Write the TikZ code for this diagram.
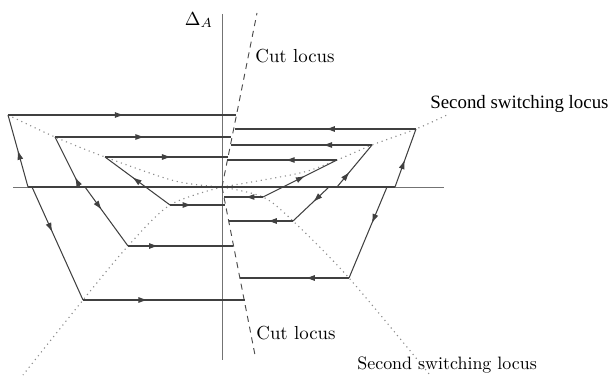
\documentclass[tikz,border=0pt]{standalone}
\usepackage{fontspec}
\newfontfamily\timesfont{Liberation Serif}
\usetikzlibrary{arrows.meta,decorations.markings}

\begin{document}
\begin{tikzpicture}[
  x=0.53pt, y=-0.53pt,
  traj/.style={black!75, line width=0.55pt},
  axis/.style={black!55, line width=0.4pt},
  cut/.style={black!70, line width=0.5pt, dash pattern=on 3.2pt off 2.6pt},
  switchloc/.style={black!45, line width=0.6pt, dash pattern=on 0.6pt off 2pt},
  arr/.style={postaction={decorate}, decoration={markings,
      mark=at position #1 with {\arrow{Latex[length=5pt,width=3.2pt]}}}},
  lbl/.style={inner sep=0pt, anchor=west}
]
\useasboundingbox (0,0) rectangle (611,378);

% axes
\coordinate (O) at (222,187);
\coordinate (xW) at (13,187);
\coordinate (xE) at (444,187);
\coordinate (yN) at (222,14);
\coordinate (yS) at (222,360);
\draw[axis] (xW) -- (xE);
\draw[axis] (yN) -- (yS);
\node[inner sep=0pt] (dA) at (199,20) {$\Delta_A$};

% cut locus
\coordinate (cN) at (257,13);
\coordinate (cS) at (255,355);
\draw[cut] (O) -- (cN);
\draw[cut] (O) -- (cS);

% switching loci
\draw[switchloc] plot[smooth] coordinates {(8,115) (55,137) (105,157) (175,181) (222,187)};
\draw[switchloc] plot[smooth] coordinates {(222,187) (300,173) (337,160) (372,145) (416,129) (447,115)};
\draw[switchloc] plot[smooth] coordinates {(222,187) (170,205) (128,246) (83,300) (23,375)};
\draw[switchloc] plot[smooth] coordinates {(222,187) (263,197) (293,221) (349,278) (430,375)};

% corners
\coordinate (l1t) at (8,115);   \coordinate (l1te) at (236,115);
\coordinate (l1u) at (28,187);  \coordinate (l1d) at (32,187);
\coordinate (l1b) at (83,300);  \coordinate (l1be) at (245,300);
\coordinate (l2t) at (55,137);  \coordinate (l2te) at (231,137);
\coordinate (l2u) at (80,187);  \coordinate (l2d) at (85,187);
\coordinate (l2b) at (128,246); \coordinate (l2be) at (233,246);
\coordinate (l3t) at (105,157); \coordinate (l3te) at (228,157);
\coordinate (l3b) at (170,205); \coordinate (l3be) at (225,205);
\coordinate (r1t) at (416,129); \coordinate (r1te) at (235,129);
\coordinate (r1u) at (395,187); \coordinate (r1d) at (387,187);
\coordinate (r1b) at (349,278); \coordinate (r1be) at (240,278);
\coordinate (r2t) at (372,145); \coordinate (r2te) at (231,145);
\coordinate (r2u) at (337,187); \coordinate (r2d) at (329,187);
\coordinate (r2b) at (293,221); \coordinate (r2be) at (229,221);
\coordinate (r3t) at (337,160); \coordinate (r3te) at (227,160);
\coordinate (r3b) at (263,197); \coordinate (r3be) at (224,197);

\draw[traj] (l1u) -- (r1u);

% left trajectories
\draw[traj, arr=0.51] (l1t) -- (l1te);
\draw[traj, arr=0.51] (l1u) -- (l1t);
\draw[traj, arr=0.4] (l1d) -- (l1b);
\draw[traj, arr=0.4] (l1b) -- (l1be);
\draw[traj, arr=0.51] (l2t) -- (l2te);
\draw[traj, arr=0.2] (l2u) -- (l2t);
\draw[traj, arr=0.39] (l2d) -- (l2b);
\draw[traj, arr=0.29] (l2b) -- (l2be);
\draw[traj, arr=0.54] (l3t) -- (l3te);
\draw[traj, arr=0.58] (l3b) -- (l3t);
\draw[traj, arr=0.4] (l3b) -- (l3be);

% right trajectories
\draw[traj, arr=0.5] (r1t) -- (r1te);
\draw[traj, arr=0.47] (r1u) -- (r1t);
\draw[traj, arr=0.4] (r1d) -- (r1b);
\draw[traj, arr=0.4] (r1b) -- (r1be);
\draw[traj, arr=0.35] (r2t) -- (r2te);
\draw[traj, arr=0.36] (r2u) -- (r2t);
\draw[traj, arr=0.44] (r2d) -- (r2b);
\draw[traj, arr=0.4] (r2b) -- (r2be);
\draw[traj, arr=0.47] (r3t) -- (r3te);
\draw[traj, arr=0.57] (r3b) -- (r3t);
\draw[traj, arr=0.46] (r3b) -- (r3be);

% labels
\node[lbl] (cutN) at (255,56) {Cut locus};
\node[lbl, font=\timesfont\fontsize{10}{12}\selectfont] (swN) at (430,104) {Second switching locus};
\node[lbl] (cutS) at (256,333) {Cut locus};
\node[lbl, font=\fontsize{9.5}{11}\selectfont] (swS) at (357,365) {Second switching locus};
\end{tikzpicture}
\end{document}
